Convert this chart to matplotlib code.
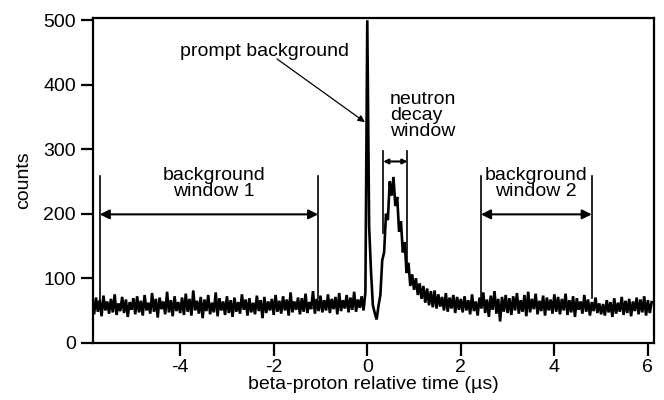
import numpy as np
import matplotlib
matplotlib.use("Agg")
import matplotlib.pyplot as plt

plt.rcParams['font.family'] = ['Liberation Sans', 'DejaVu Sans']
plt.rcParams['axes.unicode_minus'] = False

# time bins (µs): start and bin width
t_start = -5.88
t_step = 0.04

# counts
counts_pre = [
    62, 44, 70, 48, 66, 41, 73, 50, 64, 45, 68, 47, 75, 43, 61, 49, 71, 46, 67, 40, 63, 51, 69, 44, 72,
    47, 65, 42, 74, 50, 62, 45, 77, 48, 68, 39, 70, 52, 64, 44, 79, 47, 66, 41, 72, 49, 63, 46, 70, 43,
    76, 48, 68, 42, 81, 50, 65, 45, 71, 38, 67, 49, 74, 44, 62, 47, 78, 41, 69, 50, 64, 43, 72, 46, 66,
    40, 70, 48, 63, 45, 75, 51, 67, 42, 69, 47, 62, 44, 73, 49, 66, 38, 71, 46, 64, 50, 68, 43, 74, 48,
    65, 45, 72, 50, 67, 42, 78, 47, 64, 51, 70, 44, 69, 48, 76, 46, 63, 52, 80, 45, 68, 49, 73, 47, 66,
    50, 75, 46, 68, 52, 71, 44, 77, 49, 66, 53, 74, 47, 70, 51, 79, 48, 67, 54, 72, 50, 78,
]
counts_peak = [
    500, 180, 110, 58, 46, 36, 57, 74, 128, 140, 200, 190, 250, 228, 257, 212, 226, 172, 188, 140,
    156, 108, 124, 88, 106,
]
counts_tail = [
    82, 100, 74, 92, 68, 88, 62, 84, 58, 80, 55, 81, 53, 75, 56, 71, 50, 77, 48, 70, 53, 74, 46, 71, 51, 68,
]
counts_post = [
    47, 72, 50, 66, 44, 75, 49, 64, 42, 70, 53, 78, 46, 67, 40, 73, 51, 80, 45, 68, 33, 71, 48, 74, 46,
    69, 43, 72, 50, 77, 45, 66, 48, 74, 41, 79, 47, 68, 52, 76, 44, 65, 49, 73, 42, 70, 50, 67, 45, 75,
    48, 71, 44, 68, 50, 76, 43, 66, 47, 72, 40, 69, 51, 64, 45, 74, 48, 67, 42, 63, 49, 70, 46, 61, 44,
    60, 42, 66, 47, 63, 40, 69, 45, 62, 48, 71, 43, 65, 46, 68, 41, 64, 49, 70, 44, 67, 47, 72, 42, 66, 46, 63,
]
counts = np.array(counts_pre + counts_peak + counts_tail + counts_post, dtype=float)
t = t_start + t_step * np.arange(len(counts))

xticks = [-4, -2, 0, 2, 4, 6]
yticks = [0, 100, 200, 300, 400, 500]

fig = plt.figure(figsize=(6.64, 4.00), dpi=100)
ax = fig.add_axes([92.7 / 664, 1 - 342.7 / 400, (654 - 92.7) / 664, (342.7 - 18.3) / 400])

ax.plot(t, counts, color='black', lw=1.9, solid_joinstyle='miter')

ax.set_xlim(-5.87, 6.13)
ax.set_ylim(0, 503)
ax.set_xticks(xticks)
ax.set_yticks(yticks)
ax.tick_params(direction='out', length=9, width=1.6, labelsize=14, pad=3)
for s in ax.spines.values():
    s.set_linewidth(1.6)

ax.set_xlabel('beta-proton relative time (µs)', fontsize=14, labelpad=0)
ax.set_ylabel('counts', fontsize=14, labelpad=8)

fs = 14
# prompt background
ax.text(-2.19, 452, 'prompt background', fontsize=fs, ha='center', va='center')
ax.annotate('', xy=(-0.05, 342), xytext=(-1.93, 440),
            arrowprops=dict(arrowstyle='-|>', color='black', lw=0.9, mutation_scale=10,
                            shrinkA=0, shrinkB=0))

# window markers
def window(x0, x1, ytop, ybot0, ybot1, yarr, ms=14):
    ax.plot([x0, x0], [ybot0, ytop], color='black', lw=1.2)
    ax.plot([x1, x1], [ybot1, ytop], color='black', lw=1.2)
    ax.annotate('', xy=(x1, yarr), xytext=(x0, yarr),
                arrowprops=dict(arrowstyle='<|-|>', color='black', lw=1.5, mutation_scale=ms,
                                shrinkA=0, shrinkB=0))

window(-5.72, -1.05, 258, 66, 70, 199)
ax.text(-3.28, 247, 'background\nwindow 1', fontsize=fs, ha='center', va='center', linespacing=0.9)

window(2.43, 4.80, 258, 66, 70, 199)
ax.text(3.61, 247, 'background\nwindow 2', fontsize=fs, ha='center', va='center', linespacing=0.9)

window(0.34, 0.86, 298, 170, 120, 281, ms=7)
ax.text(0.48, 352, 'neutron\ndecay\nwindow', fontsize=fs, ha='left', va='center', linespacing=0.9)

fig.savefig('out.png', dpi=100)
